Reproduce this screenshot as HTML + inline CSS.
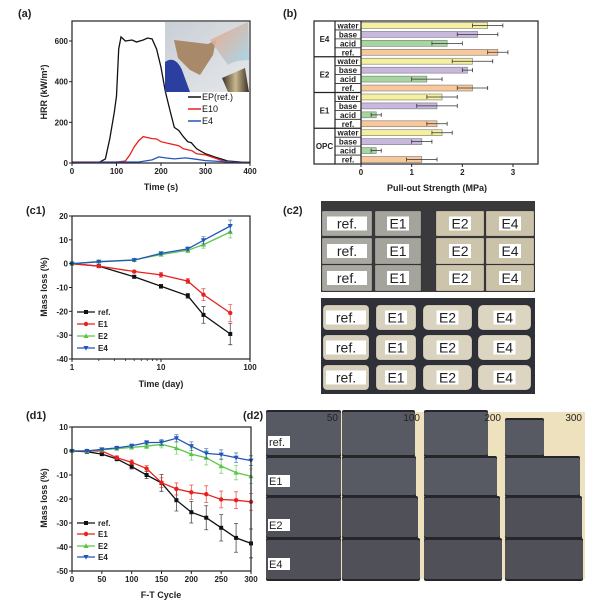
<!DOCTYPE html>
<html><head><meta charset="utf-8"><style>
html,body{margin:0;padding:0;background:#fff}
svg{display:block;font-family:"Liberation Sans",sans-serif}
.t{font-size:8px;font-weight:bold;fill:#222}
.ti{font-size:9px;font-weight:bold;fill:#222}
.pl{font-size:11px;font-weight:bold;fill:#222}
</style></head><body>
<svg id="fig" width="604" height="603" viewBox="0 0 604 603">
<defs>
<linearGradient id="insetbg" x1="0" y1="0" x2="1" y2="1"><stop offset="0" stop-color="#c9cfd6"/><stop offset="1" stop-color="#e6e8ea"/></linearGradient>
<linearGradient id="flame" x1="0" y1="0" x2="1" y2="1"><stop offset="0" stop-color="#f3a07a" stop-opacity="0.8"/><stop offset="1" stop-color="#9fd6ef" stop-opacity="0.9"/></linearGradient>
<linearGradient id="nozzle" x1="0" y1="0" x2="1" y2="0"><stop offset="0" stop-color="#3a3020"/><stop offset="0.5" stop-color="#c9b890"/><stop offset="1" stop-color="#3a3020"/></linearGradient>
</defs>
<g id="panel-a">
<text class="pl" x="18" y="17">(a)</text>
<g id="a-inset">
<rect x="165" y="22" width="84" height="70" fill="url(#insetbg)"/>
<path d="M174 40 L208 44 L216 40 L213 55 L200 75 L190 70 L178 58 Z" fill="#a88a6a"/>
<path d="M165 62 Q175 55 182 70 L190 92 L165 92 Z" fill="#2b3fa0"/>
<path d="M210 40 Q230 30 248 22 L249 60 Q235 60 228 65 Z" fill="url(#flame)"/>
<path d="M222 78 L245 68 L249 92 L228 92 Z" fill="url(#nozzle)"/>
</g>
</g>
<g id="panel-b">
<text class="pl" x="283" y="17">(b)</text>
</g>
<g id="panel-c1">
<text class="pl" x="26" y="214">(c1)</text>
</g>
<g id="panel-c2">
<text class="pl" x="283" y="214">(c2)</text>
</g>
<g id="panel-d1">
<text class="pl" x="26" y="419">(d1)</text>
</g>
<g id="panel-d2">
<text class="pl" x="243" y="419">(d2)</text>
</g>
</svg>
<script>
// ---------- data: panel (a) ----------
const epTime = [0,60,75,85,95,100,105,110,120,135,145,160,170,180,190,200,210,220,230,240,250,260,268,280,300,320,350,380,400];
const epHRR  = [0,2,20,120,250,330,560,620,600,605,595,605,615,610,560,470,350,260,175,160,130,105,100,70,45,30,10,5,3];
const e10Time = [0,100,120,130,140,150,160,170,180,190,200,220,240,250,270,280,300,320,340,360,400];
const e10HRR  = [5,5,10,40,80,110,130,125,120,118,105,95,85,70,60,45,40,25,10,5,3];
const e4Time = [0,150,180,195,210,230,255,280,300,330,360,400];
const e4HRR  = [3,5,15,30,25,20,25,18,12,8,4,2];
const aXTicks = [0,100,200,300,400];
const aYTicks = [0,200,400,600];
// ---------- data: panel (b) ----------
const bGroups = ["E4","E2","E1","OPC"];
const bTreatments = ["water","base","acid","ref."];
const bValues = [[2.5,2.3,1.7,2.7],[2.2,2.1,1.3,2.2],[1.6,1.5,0.3,1.5],[1.6,1.2,0.3,1.2]];
const bErrors = [[0.3,0.4,0.3,0.2],[0.4,0.1,0.3,0.3],[0.3,0.4,0.1,0.2],[0.2,0.2,0.1,0.3]];
const bXTicks = [0,1,2,3];
// ---------- data: panel (c1) ----------
const cDays = [1,2,5,10,20,30,60];
const cRef = [0,-1,-5.5,-9.5,-13.5,-21.5,-29.5];
const cRefErr = [0,0.3,0.5,0.8,1,3.5,4.5];
const cE1 = [0,-1,-3.3,-4.7,-7.3,-13,-20.7];
const cE1Err = [0,0.3,0.5,1,1,2.5,3.5];
const cE2 = [0,0.9,1.6,3.8,5.6,8,13.3];
const cE2Err = [0.3,0.3,0.5,0.5,1,1.5,2.5];
const cE4 = [0,0.8,1.5,4.3,6.2,9.8,15.8];
const cE4Err = [0.3,0.3,0.5,0.5,0.8,1.5,2.5];
const cYTicks = [20,10,0,-10,-20,-30,-40];
const cXTicks = [1,10,100];
// ---------- data: panel (d1) ----------
const dCycles = [0,25,50,75,100,125,150,175,200,225,250,275,300];
const dRef = [0,-0.3,-1.3,-3.3,-6.5,-10,-13.3,-20.5,-25.5,-27.8,-32,-36.2,-38.5];
const dRefErr = [0,0.3,0.5,0.8,1,1.5,3.5,4.5,4.5,5,5.5,6,6];
const dE1 = [0,0,0,-2.8,-4.7,-7.3,-13.2,-15.8,-17.2,-18,-20.2,-20.5,-21.2];
const dE1Err = [0,0.3,0.5,0.8,1,1.2,2,2.5,3,3.5,3.5,3.5,3.5];
const dE2 = [0,0,0.5,1,1.5,2,2.8,1.2,-1.3,-2.8,-6.3,-9,-10.5];
const dE2Err = [0,0.3,0.5,0.5,0.7,1,1.5,2.5,2.5,3,3,3,3];
const dE4 = [0,0,0.7,1.3,2.2,3.5,3.6,5.3,2,-1,-1.5,-2.8,-4];
const dE4Err = [0,0.3,0.4,0.5,0.6,0.8,1.2,1.5,1.8,2,2,2,2];
const dYTicks = [10,0,-10,-20,-30,-40,-50];
const dXTicks = [0,50,100,150,200,250,300];

const NS = "http://www.w3.org/2000/svg";
function mk(parent, tag, attrs, txt){
  const e = document.createElementNS(NS, tag);
  for (const k in attrs) e.setAttribute(k, attrs[k]);
  if (txt !== undefined) e.textContent = txt;
  parent.appendChild(e);
  return e;
}
function lin(d0,d1,r0,r1){ return v => r0 + (v-d0)/(d1-d0)*(r1-r0); }
function logS(d0,d1,r0,r1){ return v => r0 + (Math.log10(v)-Math.log10(d0))/(Math.log10(d1)-Math.log10(d0))*(r1-r0); }

const COL = {ref:"#111111", E1:"#e8211d", E2:"#5cc64a", E4:"#2356b8"};

function frame(g, L, T, R, B){
  const r = mk(g,"rect",{x:L,y:T,width:R-L,height:B-T,fill:"none",stroke:"#222","stroke-width":1.2});
  
  
}
function xTicks(g, ticks, sx, B, fmt){
  ticks.forEach(t=>{
    const x = sx(t);
    const l = mk(g,"line",{x1:x,x2:x,y1:B,y2:B+3,stroke:"#222","stroke-width":1});
    
    
    const tx = mk(g,"text",{class:"t",x:x,y:B+11,"text-anchor":"middle"}, fmt?fmt(t):String(t));
    
    
  });
}
function yTicks(g, ticks, sy, L){
  ticks.forEach(t=>{
    const y = sy(t);
    const l = mk(g,"line",{x1:L-3,x2:L,y1:y,y2:y,stroke:"#222","stroke-width":1});
    
    
    const tx = mk(g,"text",{class:"t",x:L-4,y:y+3,"text-anchor":"end"}, String(t));
    
    
  });
}
function axisTitles(g, xt, xx, xy, yt, yx, yy){
  const a = mk(g,"text",{class:"ti",x:xx,y:xy,"text-anchor":"middle"},xt);
  
  
  const b = mk(g,"text",{class:"ti",x:yx,y:yy,"text-anchor":"middle",transform:`rotate(-90 ${yx} ${yy})`},yt);
  
  
}
function marker(g, kind, x, y, c){
  let e;
  if (kind==="ref") e = mk(g,"rect",{x:x-2,y:y-2,width:4,height:4,fill:c});
  else if (kind==="E1") e = mk(g,"circle",{cx:x,cy:y,r:2.2,fill:c});
  else if (kind==="E2") e = mk(g,"path",{d:`M${x} ${y-2.6} L${x+2.6} ${y+2} L${x-2.6} ${y+2} Z`,fill:c});
  else e = mk(g,"path",{d:`M${x} ${y+2.6} L${x+2.6} ${y-2} L${x-2.6} ${y-2} Z`,fill:c});
  
  
}
function series(g, kind, xs, ys, errs, sx, sy){
  const c = COL[kind];
  const sg = mk(g,"g",{});
  
  
  xs.forEach((xv,i)=>{
    const x = sx(xv), y1 = sy(ys[i]+errs[i]), y2 = sy(ys[i]-errs[i]);
    if (errs[i] > 0){
      const eb = mk(sg,"path",{d:`M${x} ${y1} V${y2} M${x-2} ${y1} H${x+2} M${x-2} ${y2} H${x+2}`,stroke:c,"stroke-width":0.8,fill:"none","stroke-opacity":0.75});
      
      
    }
  });
  const line = mk(sg,"path",{d:xs.map((xv,i)=>(i?"L":"M")+sx(xv).toFixed(1)+" "+sy(ys[i]).toFixed(1)).join(" "),stroke:c,"stroke-width":1.3,fill:"none"});
  
  
  xs.forEach((xv,i)=>marker(sg,kind,sx(xv),sy(ys[i]),c));
}
function legend(g, x, ys, kinds){
  kinds.forEach((k,i)=>{
    const lg = mk(g,"g",{});
    
    
    mk(lg,"line",{x1:x,x2:x+18,y1:ys[i],y2:ys[i],stroke:COL[k],"stroke-width":1.3});
    marker(lg,k,x+9,ys[i],COL[k]);
    mk(lg,"text",{class:"t",x:x+21,y:ys[i]+3},k==="ref"?"ref.":k);
  });
}

// ---------- panel (a) ----------
(function(){
  const g = document.getElementById("panel-a");
  const L=72,R=250,T=21,B=163;
  const sx = lin(0,400,L,R), sy = lin(0,600,B,41);
  const ins = document.getElementById("a-inset");
  [[epTime,epHRR,"#111","ep-ref"],[e10Time,e10HRR,"#e8211d","e10"],[e4Time,e4HRR,"#2356b8","e4"]].forEach(s=>{
    const p = mk(g,"path",{d:s[0].map((t,i)=>(i?"L":"M")+sx(t).toFixed(1)+" "+sy(s[1][i]).toFixed(1)).join(" "),stroke:s[2],"stroke-width":1.3,fill:"none"});
    
    
  });
  g.appendChild(ins);
  frame(g,L,T,R,B);
  xTicks(g,aXTicks,sx,B);
  yTicks(g,aYTicks,sy,L);
  axisTitles(g,"Time (s)",161,190,"HRR (kW/m²)",47,92);
  const leg = [["EP(ref.)","#111",100],["E10","#e8211d",112],["E4","#2356b8",124]];
  leg.forEach(l=>{
    const lg = mk(g,"g",{});
    
    
    mk(lg,"line",{x1:188,x2:201,y1:l[2]-3,y2:l[2]-3,stroke:l[1],"stroke-width":1.5});
    mk(lg,"text",{x:202,y:l[2],style:"font-size:9px;fill:#111"},l[0]);
  });
})();

// ---------- panel (b) ----------
(function(){
  const g = document.getElementById("panel-b");
  const L0=314,L1=335,L=361,R=538,T=21,B=164;
  const sx = lin(0,3,L,513);
  const rowH = (B-T)/16;
  const fills = ["#f5f0a0","#c9b8de","#a6d6a0","#f9c89a"];
  bGroups.forEach((gname,gi)=>{
    const gy = T + gi*4*rowH;
    const gl = mk(g,"text",{class:"t",x:(L0+L1)/2,y:gy+2*rowH+3,"text-anchor":"middle"},gname);
    
    
    if (gi>0){
      const sep = mk(g,"line",{x1:L0,x2:L,y1:gy,y2:gy,stroke:"#222","stroke-width":1.2});
      
      
    }
    bTreatments.forEach((tr,ti)=>{
      const y = gy + ti*rowH;
      const tl = mk(g,"text",{class:"t",x:(L1+L)/2,y:y+rowH-1.5,"text-anchor":"middle"},tr);
      
      
      if (ti>0){
        const s = mk(g,"line",{x1:L1,x2:L,y1:y,y2:y,stroke:"#222","stroke-width":0.8});
        
        
      }
      const v = bValues[gi][ti], e = bErrors[gi][ti];
      const bar = mk(g,"rect",{x:L,y:y+1.5,width:sx(v)-L,height:rowH-3,fill:fills[ti],stroke:"#777","stroke-width":0.6});
      
      
      const cy = y+rowH/2, x1=sx(v-e), x2=sx(v+e);
      const eb = mk(g,"path",{d:`M${x1} ${cy} H${x2} M${x1} ${cy-2} V${cy+2} M${x2} ${cy-2} V${cy+2}`,stroke:"#333","stroke-width":0.8,fill:"none"});
      
      
    });
  });
  [L1,L].forEach(x=>{
    const l = mk(g,"line",{x1:x,x2:x,y1:T,y2:B,stroke:"#222","stroke-width":1.2});
    
    
  });
  const f = mk(g,"rect",{x:L0,y:T,width:R-L0,height:B-T,fill:"none",stroke:"#222","stroke-width":1.2});
  
  
  xTicks(g,bXTicks,sx,B);
  const xt = mk(g,"text",{class:"ti",x:437,y:191,"text-anchor":"middle"},"Pull-out Strength (MPa)");
  
  
})();

// ---------- panel (c1) ----------
(function(){
  const g = document.getElementById("panel-c1");
  const L=72,R=250,T=216,B=359;
  const sx = logS(1,100,L,R), sy = lin(20,-40,T,B);
  [[cRef,cRefErr,"ref"],[cE1,cE1Err,"E1"],[cE2,cE2Err,"E2"],[cE4,cE4Err,"E4"]].forEach(s=>series(g,s[2],cDays,s[0],s[1],sx,sy));
  frame(g,L,T,R,B);
  for (let d=2; d<100; d++){ if (d%10===0 && d!==0) continue; if (d>10 && d%10) continue;
    const m = mk(g,"line",{x1:sx(d),x2:sx(d),y1:B,y2:B+2,stroke:"#222","stroke-width":0.8});
    
    
  }
  xTicks(g,cXTicks,sx,B);
  yTicks(g,cYTicks,sy,L);
  axisTitles(g,"Time (day)",161,387,"Mass loss (%)",47,287);
  legend(g,77,[312,324,336,348],["ref","E1","E2","E4"]);
})();

// ---------- panel (d1) ----------
(function(){
  const g = document.getElementById("panel-d1");
  const L=72,R=251,T=427,B=571;
  const sx = lin(0,300,L,R), sy = lin(10,-50,T,B);
  [[dRef,dRefErr,"ref"],[dE1,dE1Err,"E1"],[dE2,dE2Err,"E2"],[dE4,dE4Err,"E4"]].forEach(s=>series(g,s[2],dCycles,s[0],s[1],sx,sy));
  frame(g,L,T,R,B);
  xTicks(g,dXTicks,sx,B);
  yTicks(g,dYTicks,sy,L);
  axisTitles(g,"F-T Cycle",161,598,"Mass loss (%)",47,498);
  legend(g,77,[523,534,546,557],["ref","E1","E2","E4"]);
})();

// ---------- panel (c2) photos ----------
(function(){
  const g = document.getElementById("panel-c2");
  function photo(y,h,bg){ const r=mk(g,"rect",{x:321,y:y,width:214,height:h,fill:bg});   }
  function block(x,y,w,h,c,label,rx){
    const bg = mk(g,"g",{});
    
    
    mk(bg,"rect",{x:x,y:y,width:w,height:h,fill:c,rx:rx,stroke:"rgba(0,0,0,0.25)","stroke-width":0.6});
    const tw = label.length*9+4;
    mk(bg,"rect",{x:x+w/2-tw/2,y:y+h/2-7,width:tw,height:14,fill:"#fff"});
    mk(bg,"text",{x:x+w/2,y:y+h/2+5,"text-anchor":"middle",style:"font-size:14px;fill:#222"},label);
  }
  photo(201,91,"#3a3a3c");
  const rowsT = [[211,25],[238,26],[265,26]];
  rowsT.forEach(r=>{
    block(322,r[0],50,r[1],"#a9a9a2","ref.",1);
    block(375,r[0],46,r[1],"#a4a49c","E1",1);
    block(436,r[0],48,r[1],"#cdc4ac","E2",1);
    block(486,r[0],48,r[1],"#cbc2aa","E4",1);
  });
  photo(298,96,"#303038");
  const rowsB = [[305,25],[335,25],[365,25]];
  rowsB.forEach(r=>{
    block(323,r[0],46,r[1],"#d6cfbc","ref.",4);
    block(376,r[0],40,r[1],"#d8d1be","E1",4);
    block(423,r[0],49,r[1],"#dad3c0","E2",5);
    block(478,r[0],53,r[1],"#dcd5c2","E4",5);
  });
})();

// ---------- panel (d2) photos ----------
(function(){
  const g = document.getElementById("panel-d2");
  const bgR = mk(g,"rect",{x:266,y:412,width:319,height:167,fill:"#eee1bd"});
  
  
  const panels = [[266,341,"50",[75,75,75,75]],[342,423,"100",[73,74,76,78]],[424,504,"200",[64,73,76,78]],[505,585,"300",[39,75,77,78]]];
  const rows = [[412,455],[458,495],[498,537],[540,579]];
  panels.forEach((p,pi)=>{
    const pg = mk(g,"g",{});
    
    
    rows.forEach((r,ri)=>{
      const top = (pi===3 && ri===0) ? 420 : r[0];
      mk(pg,"rect",{x:p[0],y:top-2,width:p[3][ri],height:r[1]-top+4,fill:"#26262a",rx:2});
      mk(pg,"rect",{x:p[0],y:top,width:p[3][ri],height:r[1]-top,fill:ri<2?"#585a63":"#4f5058",rx:2});
    });
    const t = mk(pg,"text",{x:p[1]-3,y:421,"text-anchor":"end",style:"font-size:10px;fill:#222"},p[2]);
    
    
  });
  [["ref.",445],["E1",484],["E2",528],["E4",567]].forEach(l=>{
    const lg = mk(g,"g",{});
    
    
    mk(lg,"rect",{x:268,y:l[1]-9,width:22,height:12,fill:"#fff"});
    mk(lg,"text",{x:269,y:l[1]+1,style:"font-size:11px;fill:#222"},l[0]);
  });
})();
</script>
</body></html>
